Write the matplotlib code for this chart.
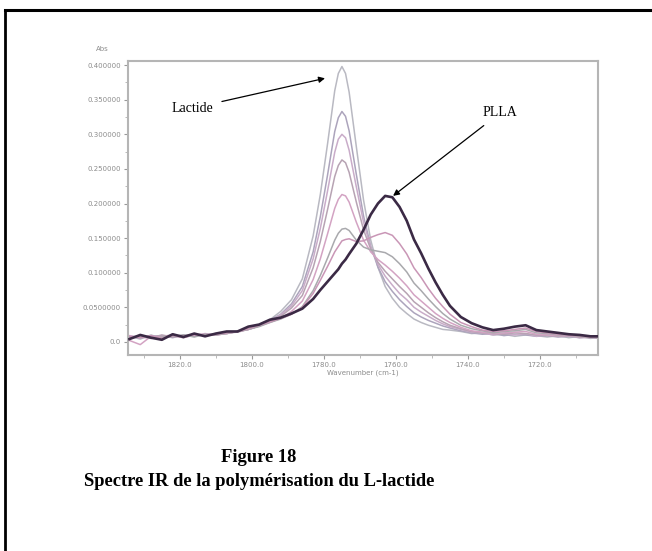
import matplotlib.pyplot as plt
from matplotlib.lines import Line2D
from matplotlib.ticker import MultipleLocator

# wavenumber grid (cm-1)
wn = [1834, 1831, 1828, 1825, 1822, 1819, 1816, 1813, 1810, 1807, 1804, 1801, 1798, 1795,
      1792, 1789, 1786, 1783, 1781, 1779, 1777, 1776, 1775, 1774, 1773,
      1771, 1769, 1767, 1765, 1763, 1761, 1759, 1757, 1755, 1753, 1751, 1749, 1747, 1745,
      1742, 1739, 1736, 1733, 1730, 1727, 1724, 1721, 1718, 1715, 1712, 1709, 1706, 1704]

# absorbance, from monomer (t0) to polymer (end)
abs_t0 = [0.008, 0.004, 0.010, 0.005, 0.009, 0.006, 0.011, 0.010, 0.012, 0.012, 0.015, 0.018, 0.024, 0.032,
          0.044, 0.061, 0.091, 0.153, 0.213, 0.286, 0.363, 0.388, 0.398, 0.388, 0.361,
          0.282, 0.205, 0.147, 0.108, 0.080, 0.063, 0.050, 0.041, 0.033, 0.028, 0.024, 0.021, 0.018, 0.017,
          0.015, 0.012, 0.013, 0.010, 0.011, 0.008, 0.010, 0.009, 0.007, 0.009, 0.006, 0.008, 0.005, 0.006]
abs_t1 = [0.007, 0.006, 0.008, 0.009, 0.006, 0.010, 0.008, 0.011, 0.010, 0.013, 0.015, 0.018, 0.023, 0.031,
          0.040, 0.055, 0.080, 0.130, 0.181, 0.241, 0.304, 0.324, 0.333, 0.326, 0.305,
          0.242, 0.182, 0.138, 0.108, 0.087, 0.073, 0.061, 0.051, 0.042, 0.036, 0.031, 0.027, 0.023, 0.020,
          0.016, 0.013, 0.011, 0.012, 0.009, 0.011, 0.010, 0.008, 0.009, 0.007, 0.008, 0.006, 0.007, 0.005]
abs_t2 = [0.009, 0.007, 0.005, 0.008, 0.010, 0.007, 0.009, 0.012, 0.010, 0.012, 0.015, 0.018, 0.023, 0.030,
          0.039, 0.052, 0.074, 0.120, 0.164, 0.218, 0.274, 0.293, 0.300, 0.295, 0.277,
          0.224, 0.173, 0.137, 0.112, 0.095, 0.082, 0.070, 0.061, 0.050, 0.043, 0.037, 0.031, 0.026, 0.022,
          0.018, 0.014, 0.013, 0.010, 0.012, 0.010, 0.012, 0.008, 0.010, 0.008, 0.009, 0.006, 0.007, 0.006]
abs_t3 = [0.005, 0.008, 0.006, 0.010, 0.007, 0.009, 0.010, 0.009, 0.011, 0.013, 0.014, 0.018, 0.023, 0.029,
          0.037, 0.049, 0.067, 0.107, 0.145, 0.191, 0.239, 0.255, 0.263, 0.259, 0.245,
          0.202, 0.162, 0.134, 0.115, 0.102, 0.091, 0.080, 0.070, 0.058, 0.050, 0.042, 0.035, 0.029, 0.024,
          0.019, 0.015, 0.013, 0.012, 0.011, 0.013, 0.012, 0.010, 0.009, 0.008, 0.009, 0.007, 0.006, 0.007]
abs_t4 = [0.002, -0.004, 0.008, 0.007, 0.009, 0.006, 0.010, 0.011, 0.010, 0.012, 0.015, 0.018, 0.023, 0.028,
          0.034, 0.044, 0.059, 0.090, 0.120, 0.156, 0.193, 0.206, 0.213, 0.211, 0.202,
          0.173, 0.147, 0.130, 0.119, 0.111, 0.102, 0.092, 0.081, 0.068, 0.059, 0.050, 0.041, 0.034, 0.028,
          0.021, 0.016, 0.014, 0.012, 0.013, 0.014, 0.015, 0.011, 0.010, 0.009, 0.009, 0.008, 0.007, 0.006]
abs_t5 = [0.006, 0.009, 0.005, 0.007, 0.008, 0.010, 0.007, 0.011, 0.010, 0.012, 0.015, 0.018, 0.022, 0.028,
          0.033, 0.040, 0.051, 0.074, 0.096, 0.121, 0.147, 0.157, 0.163, 0.164, 0.161,
          0.147, 0.137, 0.133, 0.131, 0.129, 0.123, 0.113, 0.101, 0.085, 0.074, 0.062, 0.051, 0.041, 0.033,
          0.024, 0.019, 0.016, 0.013, 0.015, 0.016, 0.018, 0.013, 0.012, 0.010, 0.010, 0.008, 0.007, 0.006]
abs_t6 = [0.008, 0.006, 0.009, 0.005, 0.009, 0.008, 0.011, 0.009, 0.011, 0.013, 0.015, 0.019, 0.024, 0.029,
          0.034, 0.040, 0.050, 0.070, 0.089, 0.109, 0.130, 0.138, 0.146, 0.148, 0.149,
          0.145, 0.146, 0.151, 0.155, 0.158, 0.154, 0.142, 0.127, 0.107, 0.093, 0.077, 0.063, 0.051, 0.040,
          0.028, 0.022, 0.017, 0.015, 0.016, 0.018, 0.020, 0.015, 0.013, 0.011, 0.010, 0.009, 0.007, 0.007]
abs_end = [0.004, 0.010, 0.006, 0.003, 0.011, 0.007, 0.012, 0.008, 0.012, 0.015, 0.015, 0.022, 0.025, 0.032,
           0.035, 0.041, 0.048, 0.062, 0.075, 0.087, 0.099, 0.105, 0.113, 0.119, 0.127,
           0.142, 0.162, 0.184, 0.200, 0.211, 0.209, 0.195, 0.175, 0.148, 0.128, 0.106, 0.086, 0.068, 0.052,
           0.036, 0.027, 0.021, 0.017, 0.019, 0.022, 0.024, 0.017, 0.015, 0.013, 0.011, 0.010, 0.008, 0.008]

spectra = [abs_t0, abs_t1, abs_t2, abs_t3, abs_t4, abs_t5, abs_t6, abs_end]
colors = ['#b9b9c2', '#aca4bc', '#c9acc9', '#b7a3b3', '#d3a3c3', '#a9a9ad', '#c996b6', '#3b2a45']
widths = [1.1, 1.1, 1.1, 1.1, 1.1, 1.1, 1.1, 1.9]

yticks = [0.0, 0.05, 0.10, 0.15, 0.20, 0.25, 0.30, 0.35, 0.40]
ytick_labels = ['0.0', '0.0500000', '0.100000', '0.150000', '0.200000',
                '0.250000', '0.300000', '0.350000', '0.400000']
xticks = [1820, 1800, 1780, 1760, 1740, 1720]
xtick_labels = ['1820.0', '1800.0', '1780.0', '1760.0', '1740.0', '1720.0']

fig = plt.figure(figsize=(6.52, 5.51), dpi=100)
fig.patch.set_facecolor('white')

# page frame lines
fig.add_artist(Line2D([5/652, 1.0], [1-9.5/551, 1-9.5/551], color='black', lw=2.2))
fig.add_artist(Line2D([5/652, 5/652], [0.0, 1-9.5/551], color='black', lw=2.0))

ax = fig.add_axes([128/652, 1-355/551, 470/652, 294/551])
for i, s in enumerate(spectra):
    ax.plot(wn, s, color=colors[i], lw=widths[i], zorder=2 + (i == len(spectra) - 1))

ax.set_xlim(1834.4, 1703.9)
ax.set_ylim(-0.019, 0.406)

for sp in ax.spines.values():
    sp.set_color('#b5b5b5')
    sp.set_linewidth(1.5)

ax.set_xticks(xticks)
ax.set_xticklabels(xtick_labels)
ax.set_yticks(yticks)
ax.set_yticklabels(ytick_labels)
ax.xaxis.set_minor_locator(MultipleLocator(10))
ax.yaxis.set_minor_locator(MultipleLocator(0.025))
ax.tick_params(which='major', length=3, width=0.8, color='#999999', labelsize=5,
               labelcolor='#8c8c8c', pad=2)
ax.tick_params(which='minor', length=2, width=0.6, color='#b0b0b0')

ax.set_xlabel('Wavenumber (cm-1)', fontsize=5, color='#8c8c8c', labelpad=1)
ax.text(-0.055, 1.03, 'Abs', transform=ax.transAxes, fontsize=5, color='#8c8c8c',
        ha='center', va='bottom')

serif = ['Liberation Serif', 'DejaVu Serif']
ax.annotate('Lactide', xy=(1779.7, 0.381), xytext=(1810.6, 0.338),
            fontsize=10, family=serif, ha='right', va='center',
            arrowprops=dict(arrowstyle='-|>', color='black', lw=0.9,
                            mutation_scale=9, shrinkA=4, shrinkB=0))
ax.annotate('PLLA', xy=(1760.8, 0.211), xytext=(1735.9, 0.331),
            fontsize=10, family=serif, ha='left', va='center',
            arrowprops=dict(arrowstyle='-|>', color='black', lw=0.9,
                            mutation_scale=9, shrinkA=4, shrinkB=0))

fig.text(259/652, 1-458/551, 'Figure 18', fontsize=13.3, family=serif,
         fontweight='bold', ha='center', va='center')
fig.text(259/652, 1-481/551, 'Spectre IR de la polymérisation du L-lactide', fontsize=13.3,
         family=serif, fontweight='bold', ha='center', va='center')

fig.savefig('out.png', dpi=100)
